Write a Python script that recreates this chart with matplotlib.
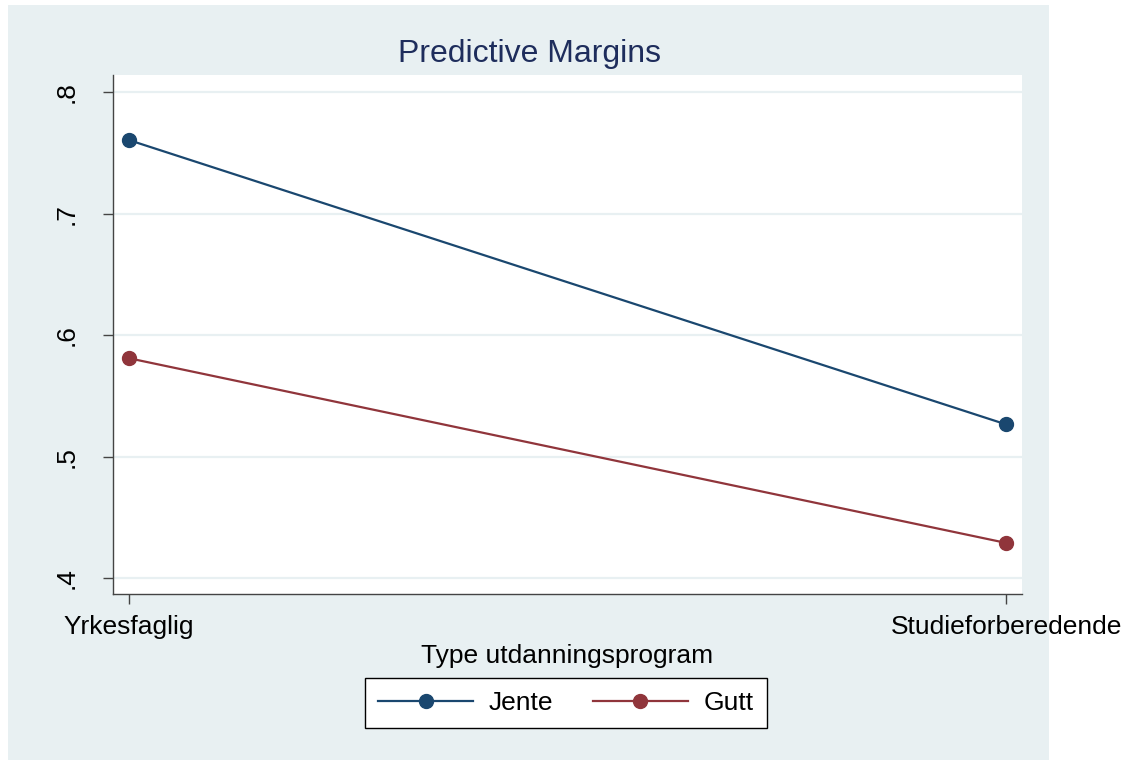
import numpy as np
import matplotlib.pyplot as plt
from matplotlib.patches import Rectangle

plt.rcParams['font.family'] = ['Liberation Sans', 'DejaVu Sans']

# data
categories = ["Yrkesfaglig", "Studieforberedende"]
jente = [0.7605, 0.5265]
gutt = [0.581, 0.429]
yticks = [0.4, 0.5, 0.6, 0.7, 0.8]
ytick_labels = [".4", ".5", ".6", ".7", ".8"]

bg = "#E8F0F2"
navy = "#1A476F"
maroon = "#90353B"

fig = plt.figure(figsize=(11.29, 7.6), dpi=100)
fig.patch.set_facecolor("white")
# graph region background (does not fill whole image)
fig.patches.append(Rectangle((8 / 1129, 0), 1041 / 1129, 755 / 760,
                             transform=fig.transFigure, facecolor=bg,
                             edgecolor="none", zorder=-10))

ax = fig.add_axes([113 / 1129, 1 - 594 / 760, 909 / 1129, 519 / 760])
ax.set_facecolor("white")

x = np.arange(len(categories))
ax.plot(x, jente, color=navy, lw=1.6, marker="o", ms=10, label="Jente", zorder=3)
ax.plot(x, gutt, color=maroon, lw=1.6, marker="o", ms=10, label="Gutt", zorder=3)

ax.set_xlim(-0.018, 1.018)
ax.set_ylim(0.387, 0.814)
ax.set_xticks(x)
ax.set_xticklabels(categories, fontsize=19)
ax.set_yticks(yticks)
ax.set_yticklabels(ytick_labels, fontsize=19, rotation=90, va="center")

ax.grid(axis="y", color=bg, lw=1.6)
ax.set_axisbelow(True)

for s in ["top", "right"]:
    ax.spines[s].set_visible(False)
for s in ["left", "bottom"]:
    ax.spines[s].set_color("#444444")
    ax.spines[s].set_linewidth(1.0)

ax.tick_params(axis="x", length=7, width=1, color="#444444", pad=8)
ax.tick_params(axis="y", length=7, width=1, color="#444444", pad=18)

ax.set_xlabel("Type utdanningsprogram", fontsize=19, labelpad=4)
fig.text(529 / 1129, 1 - 54 / 760, "Predictive Margins", fontsize=23,
         color="#1E2D5C", ha="center", va="center")

leg = fig.legend(loc="center", bbox_to_anchor=(566 / 1129, 1 - 703 / 760),
                 ncol=2, fontsize=19, frameon=True, fancybox=False,
                 framealpha=1, facecolor="white",
                 handlelength=3.6, handletextpad=0.6, columnspacing=1.5,
                 borderpad=0.5, borderaxespad=0)
leg.get_frame().set_edgecolor("black")
leg.get_frame().set_linewidth(1.0)

fig.savefig("out.png", dpi=100)
